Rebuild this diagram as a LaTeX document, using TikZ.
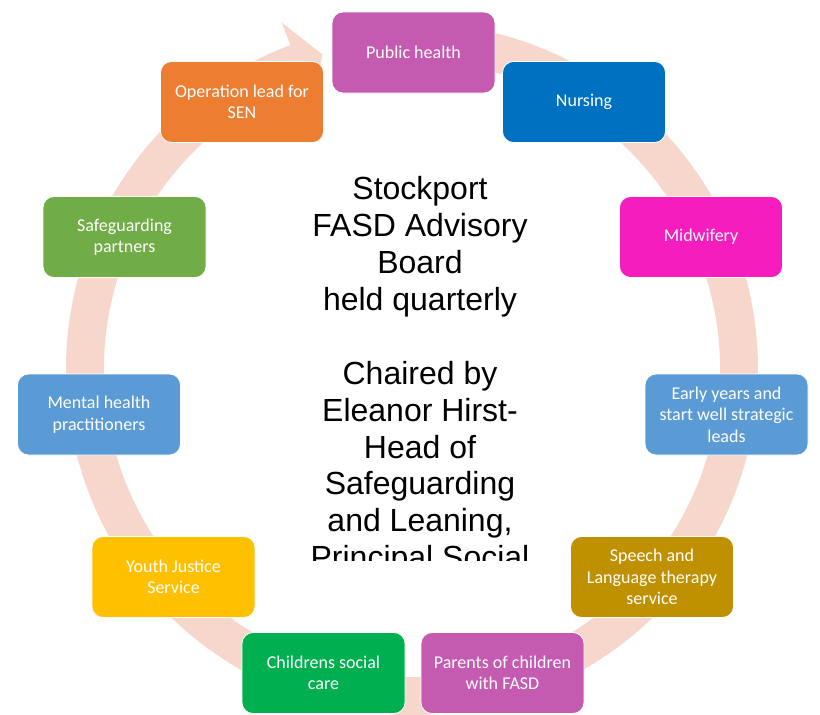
\documentclass[tikz,border=0pt]{standalone}
\usepackage{fontspec}
\setmainfont{Carlito}
\newfontfamily\boardfont{Liberation Sans}

\definecolor{ringpink}{HTML}{F7D6CB}
\definecolor{plum}{HTML}{C55AB1}
\definecolor{navyblue}{HTML}{0070C0}
\definecolor{hotpink}{HTML}{F51DBE}
\definecolor{skyblue}{HTML}{5B9BD5}
\definecolor{ochre}{HTML}{BF9000}
\definecolor{leafgreen}{HTML}{00B050}
\definecolor{amber}{HTML}{FFC000}
\definecolor{olivegreen}{HTML}{70AD47}
\definecolor{tangerine}{HTML}{ED7D31}

\begin{document}
\begin{tikzpicture}[x=1pt, y=1pt,
  member/.style={rounded corners=11pt, minimum width=163pt, minimum height=81pt,
    draw=white, line width=0.8pt, text=white, align=center, inner sep=2pt,
    font=\fontsize{18}{21.5}\selectfont},
  boardline/.style={font=\boardfont\fontsize{32}{37}\selectfont, anchor=base,
    inner sep=0pt, text=black}]

\useasboundingbox (0,0) rectangle (820,-715);

% circular arrow running clockwise behind the members
\begin{scope}[shift={(412,-369)}]
  \fill[ringpink] (90:346) arc[start angle=90, end angle=-249.4, radius=346]
    -- (-249.4:370) -- (-254.1:327) -- (-249.4:284) -- (-249.4:308)
    arc[start angle=-249.4, end angle=90, radius=308] -- cycle;
\end{scope}

% board members around the cycle
\node[member, fill=plum]       (ph)   at (413.5,-52.5) {Public health};
\node[member, fill=navyblue]   (nurs) at (584,-102)    {Nursing};
\node[member, fill=hotpink]    (midw) at (701,-237)    {Midwifery};
\node[member, fill=skyblue]    (eyrs) at (726.5,-414.5) {Early years and\\start well strategic\\leads};
\node[member, fill=ochre]      (salt) at (652,-577)    {Speech and\\Language therapy\\service};
\node[member, fill=plum]       (par)  at (502.5,-673)  {Parents of children\\with FASD};
\node[member, fill=leafgreen]  (csc)  at (323.5,-673)  {Childrens social\\care};
\node[member, fill=amber]      (yjs)  at (173.5,-577)  {Youth Justice\\Service};
\node[member, fill=skyblue]    (mhp)  at (99,-414.5)   {Mental health\\practitioners};
\node[member, fill=olivegreen] (sgp)  at (124.5,-237)  {Safeguarding\\partners};
\node[member, fill=tangerine]  (sen)  at (242,-102)    {Operation lead for\\SEN};

% central title, cut off at the bottom of its text frame
\begin{scope}
  \clip (250,-150) rectangle (590,-560);
  \foreach \k/\txt in {0/Stockport, 1/FASD Advisory, 2/Board, 3/held quarterly,
      5/Chaired by, 6/Eleanor Hirst-, 7/Head of, 8/Safeguarding,
      9/{and Leaning,}, 10/Principal Social}
    \node[boardline] (title-\k) at (420,{-199.7-36.9*\k}) {\txt};
\end{scope}

\end{tikzpicture}
\end{document}
